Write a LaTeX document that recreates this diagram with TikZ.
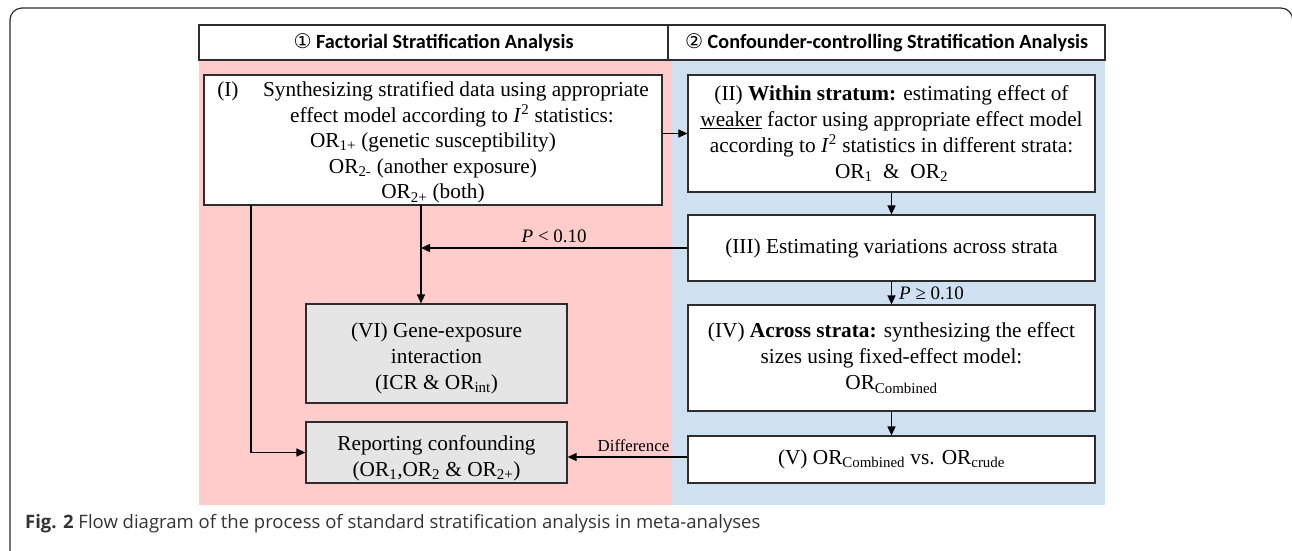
\documentclass[tikz,border=0pt]{standalone}
\usepackage{fontspec}
\setmainfont{Liberation Serif}
\newfontfamily\hdrfont{Carlito}
\newfontfamily\capfont{Open Sans}
\newfontfamily\symfont{DejaVu Sans}
\usetikzlibrary{arrows.meta,calc}
\definecolor{pinkbg}{RGB}{255,204,204}
\definecolor{bluebg}{RGB}{207,225,241}
\definecolor{boxgray}{RGB}{229,229,229}
\definecolor{edge}{RGB}{45,45,45}
\newcommand{\pushdown}[1]{\rule{0pt}{#1}}
\tikzset{
  txt/.style={font=\fontsize{21.3}{26}\selectfont, align=center, inner sep=0pt},
  flowbox/.style={txt, draw=edge, line width=1.2pt, fill=white},
  graybox/.style={flowbox, fill=boxgray},
  hdrbox/.style={draw=edge, line width=1.2pt, fill=white, inner sep=0pt,
    font=\hdrfont\bfseries\fontsize{20.2}{24}\selectfont},
  arr/.style={-{Triangle[length=9pt,width=8pt]}, line width=1.4pt, draw=black},
  lbl/.style={font=\fontsize{19}{22}\selectfont, inner sep=0pt}
}
\begin{document}
\begin{tikzpicture}[x=1pt,y=-1pt]
\useasboundingbox (0,0) rectangle (1292,550);
% outer frame
\draw[edge, line width=1.2pt, rounded corners=12pt] (10,580) -- (10,8) -- (1292.8,8) -- (1292.8,60);
% backgrounds
\fill[pinkbg] (199,60) rectangle (672,505);
\fill[bluebg] (672,60) rectangle (1105,505);
% headers
\node[hdrbox, minimum width=469pt, minimum height=35pt] (hL) at (433.5,42.5) {{\symfont\mdseries ①} Factorial Stratification Analysis};
\node[hdrbox, minimum width=437pt, minimum height=35pt] (hR) at (886.5,42.5) {{\symfont\mdseries ②} Confounder-controlling Stratification Analysis};
% boxes
\node[flowbox, minimum width=458pt, minimum height=130pt,
  label={[txt, font=\fontsize{21.3}{25.6}\selectfont, yshift=-2.5pt]center:{(I)\hspace{0.9em} Synthesizing stratified data using appropriate\\
\hspace*{38pt}effect model according to \textit{I}\textsuperscript{2} statistics:\\
OR\textsubscript{1+} (genetic susceptibility)\\
OR\textsubscript{2-} (another exposure)\\
OR\textsubscript{2+} (both)}}] (b1) at (433,140) {};
\node[flowbox, minimum width=407pt, minimum height=117pt] (b2) at (891.5,133.5) {(II) \textbf{Within stratum:} estimating effect of\\
\underline{weaker} factor using appropriate effect model\\
according to \textit{I}\textsuperscript{2} statistics in different strata:\\
OR\textsubscript{1}\ \ \&\ \ OR\textsubscript{2}};
\node[flowbox, minimum width=407pt, minimum height=66pt] (b3) at (891.5,248) {(III) Estimating variations across strata};
\node[flowbox, minimum width=407pt, minimum height=106pt] (b4) at (891.5,358) {(IV) \textbf{Across strata:} synthesizing the effect\\
sizes using fixed-effect model:\\
OR\textsubscript{Combined}};
\node[flowbox, minimum width=407pt, minimum height=47pt] (b5) at (891.5,459.5) {(V) OR\textsubscript{Combined} vs. OR\textsubscript{crude}};
\node[graybox, minimum width=261pt, minimum height=99pt] (b6) at (436.5,353.5) {\pushdown{24pt}(VI) Gene-exposure\\ interaction\\ (ICR \& OR\textsubscript{int})};
\node[graybox, minimum width=261pt, minimum height=61pt] (rep) at (436.5,452.5) {\pushdown{26pt}Reporting confounding\\ (OR\textsubscript{1},OR\textsubscript{2} \& OR\textsubscript{2+})};
% junction coordinates
\coordinate (j1) at (421,205);
\coordinate (j2) at (251,205);
% connectors
\draw[arr] (b1.east |- b2.west) -- (b2.west);
\draw[arr] (b2.south) -- (b3.north);
\draw[arr] (b3.south) -- node[lbl, right=7pt] {\textit{P} ≥ 0.10} (b4.north);
\draw[arr] (b4.south) -- (b5.north);
\draw[arr] (j1) -- (j1 |- b6.north);
\draw[arr] (b3.west) -- node[lbl, above=5pt, pos=0.5] {\textit{P} < 0.10} (b3.west -| j1);
\draw[arr] (j2) -- (j2 |- rep.west) -- (rep.west);
\draw[arr] (b5.west |- 0,457) -- node[lbl, above=5pt, pos=0.45, font=\fontsize{16.8}{20}\selectfont] {Difference} (rep.east |- 0,457);
% caption
\node[anchor=base west, inner sep=0pt, font=\capfont\fontsize{18.5}{22}\selectfont, text=black!80] (cap) at (25,528) {\textbf{Fig. 2} Flow diagram of the process of standard stratification analysis in meta-analyses};
\end{tikzpicture}
\end{document}
